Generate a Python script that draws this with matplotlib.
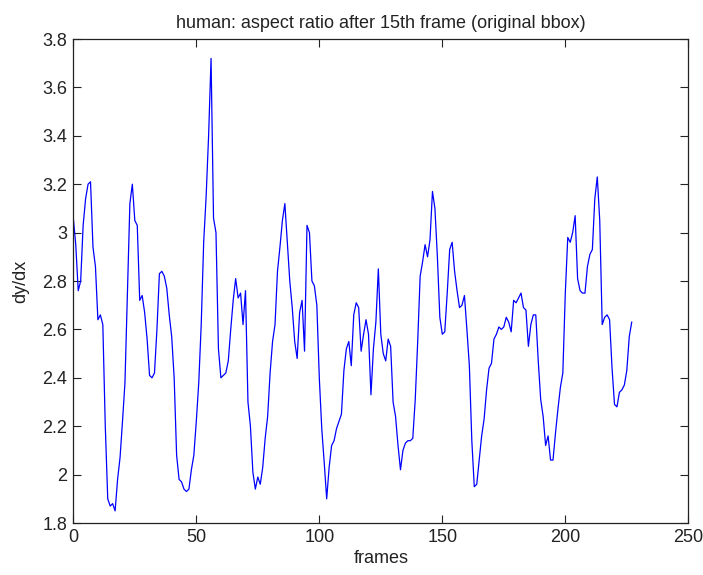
import numpy as np
import matplotlib
matplotlib.use("Agg")
import matplotlib.pyplot as plt

# dy/dx of the tracked bbox, one value per frame
aspect_ratio = [
    3.06, 2.95, 2.76, 2.80, 3.03, 3.14, 3.20, 3.21, 2.94, 2.86,
    2.64, 2.66, 2.62, 2.20, 1.90, 1.87, 1.88, 1.85, 1.98, 2.07,
    2.22, 2.38, 2.75, 3.12, 3.20, 3.05, 3.03, 2.72, 2.74, 2.67,
    2.56, 2.41, 2.40, 2.42, 2.60, 2.83, 2.84, 2.82, 2.77, 2.66,
    2.57, 2.40, 2.08, 1.98, 1.97, 1.94, 1.93, 1.94, 2.02, 2.08,
    2.22, 2.38, 2.62, 2.96, 3.15, 3.40, 3.72, 3.06, 3.00, 2.52,
    2.40, 2.41, 2.42, 2.47, 2.60, 2.72, 2.81, 2.73, 2.75, 2.62,
    2.76, 2.30, 2.20, 2.01, 1.94, 1.99, 1.96, 2.03, 2.15, 2.24,
    2.42, 2.55, 2.62, 2.84, 2.94, 3.05, 3.12, 2.96, 2.80, 2.69,
    2.55, 2.48, 2.67, 2.72, 2.51, 3.03, 3.00, 2.80, 2.78, 2.70,
    2.40, 2.19, 2.05, 1.90, 2.03, 2.12, 2.14, 2.19, 2.22, 2.25,
    2.43, 2.52, 2.55, 2.45, 2.66, 2.71, 2.69, 2.51, 2.58, 2.64,
    2.58, 2.33, 2.52, 2.63, 2.85, 2.58, 2.50, 2.47, 2.56, 2.53,
    2.30, 2.24, 2.12, 2.02, 2.10, 2.13, 2.14, 2.14, 2.15, 2.31,
    2.55, 2.82, 2.88, 2.95, 2.90, 2.97, 3.17, 3.10, 2.90, 2.65,
    2.58, 2.59, 2.75, 2.93, 2.96, 2.84, 2.76, 2.69, 2.70, 2.74,
    2.60, 2.45, 2.14, 1.95, 1.96, 2.06, 2.16, 2.23, 2.35, 2.44,
    2.46, 2.56, 2.58, 2.61, 2.60, 2.61, 2.65, 2.63, 2.59, 2.72,
    2.71, 2.73, 2.75, 2.69, 2.68, 2.53, 2.62, 2.66, 2.66, 2.47,
    2.31, 2.24, 2.12, 2.16, 2.06, 2.06, 2.17, 2.27, 2.36, 2.42,
    2.75, 2.98, 2.96, 3.00, 3.07, 2.81, 2.76, 2.75, 2.75, 2.86,
    2.91, 2.93, 3.14, 3.23, 3.05, 2.62, 2.65, 2.66, 2.64, 2.44,
    2.29, 2.28, 2.34, 2.35, 2.37, 2.43, 2.57, 2.63,
]
frames = np.arange(len(aspect_ratio))

x_ticks = [0, 50, 100, 150, 200, 250]
y_ticks = [1.8, 2, 2.2, 2.4, 2.6, 2.8, 3, 3.2, 3.4, 3.6, 3.8]
y_labels = ["1.8", "2", "2.2", "2.4", "2.6", "2.8", "3", "3.2", "3.4", "3.6", "3.8"]

plt.rcParams["font.family"] = ["Liberation Sans", "DejaVu Sans"]
plt.rcParams["font.size"] = 13

fig = plt.figure(figsize=(7.03, 5.75), dpi=100)
ax = fig.add_axes([73.3 / 703, 52 / 575, 615 / 703, 484 / 575])

ax.plot(frames, aspect_ratio, color="#0000ff", lw=0.9)

ax.set_xlim(0, 250)
ax.set_ylim(1.8, 3.8)
ax.set_xticks(x_ticks)
ax.set_yticks(y_ticks)
ax.set_yticklabels(y_labels)
ax.tick_params(direction="in", length=5.5, width=0.8, top=True, right=True,
               colors="#222222", labelcolor="#222222", pad=4.5)
for s in ax.spines.values():
    s.set_linewidth(0.9)
    s.set_color("#222222")

ax.set_xlabel("frames", color="#222222", labelpad=3)
ax.set_ylabel("dy/dx", color="#222222", labelpad=9)
ax.set_title("human: aspect ratio after 15th frame (original bbox)",
             color="#222222", fontsize=13, pad=8)

fig.savefig("out.png", dpi=100)
